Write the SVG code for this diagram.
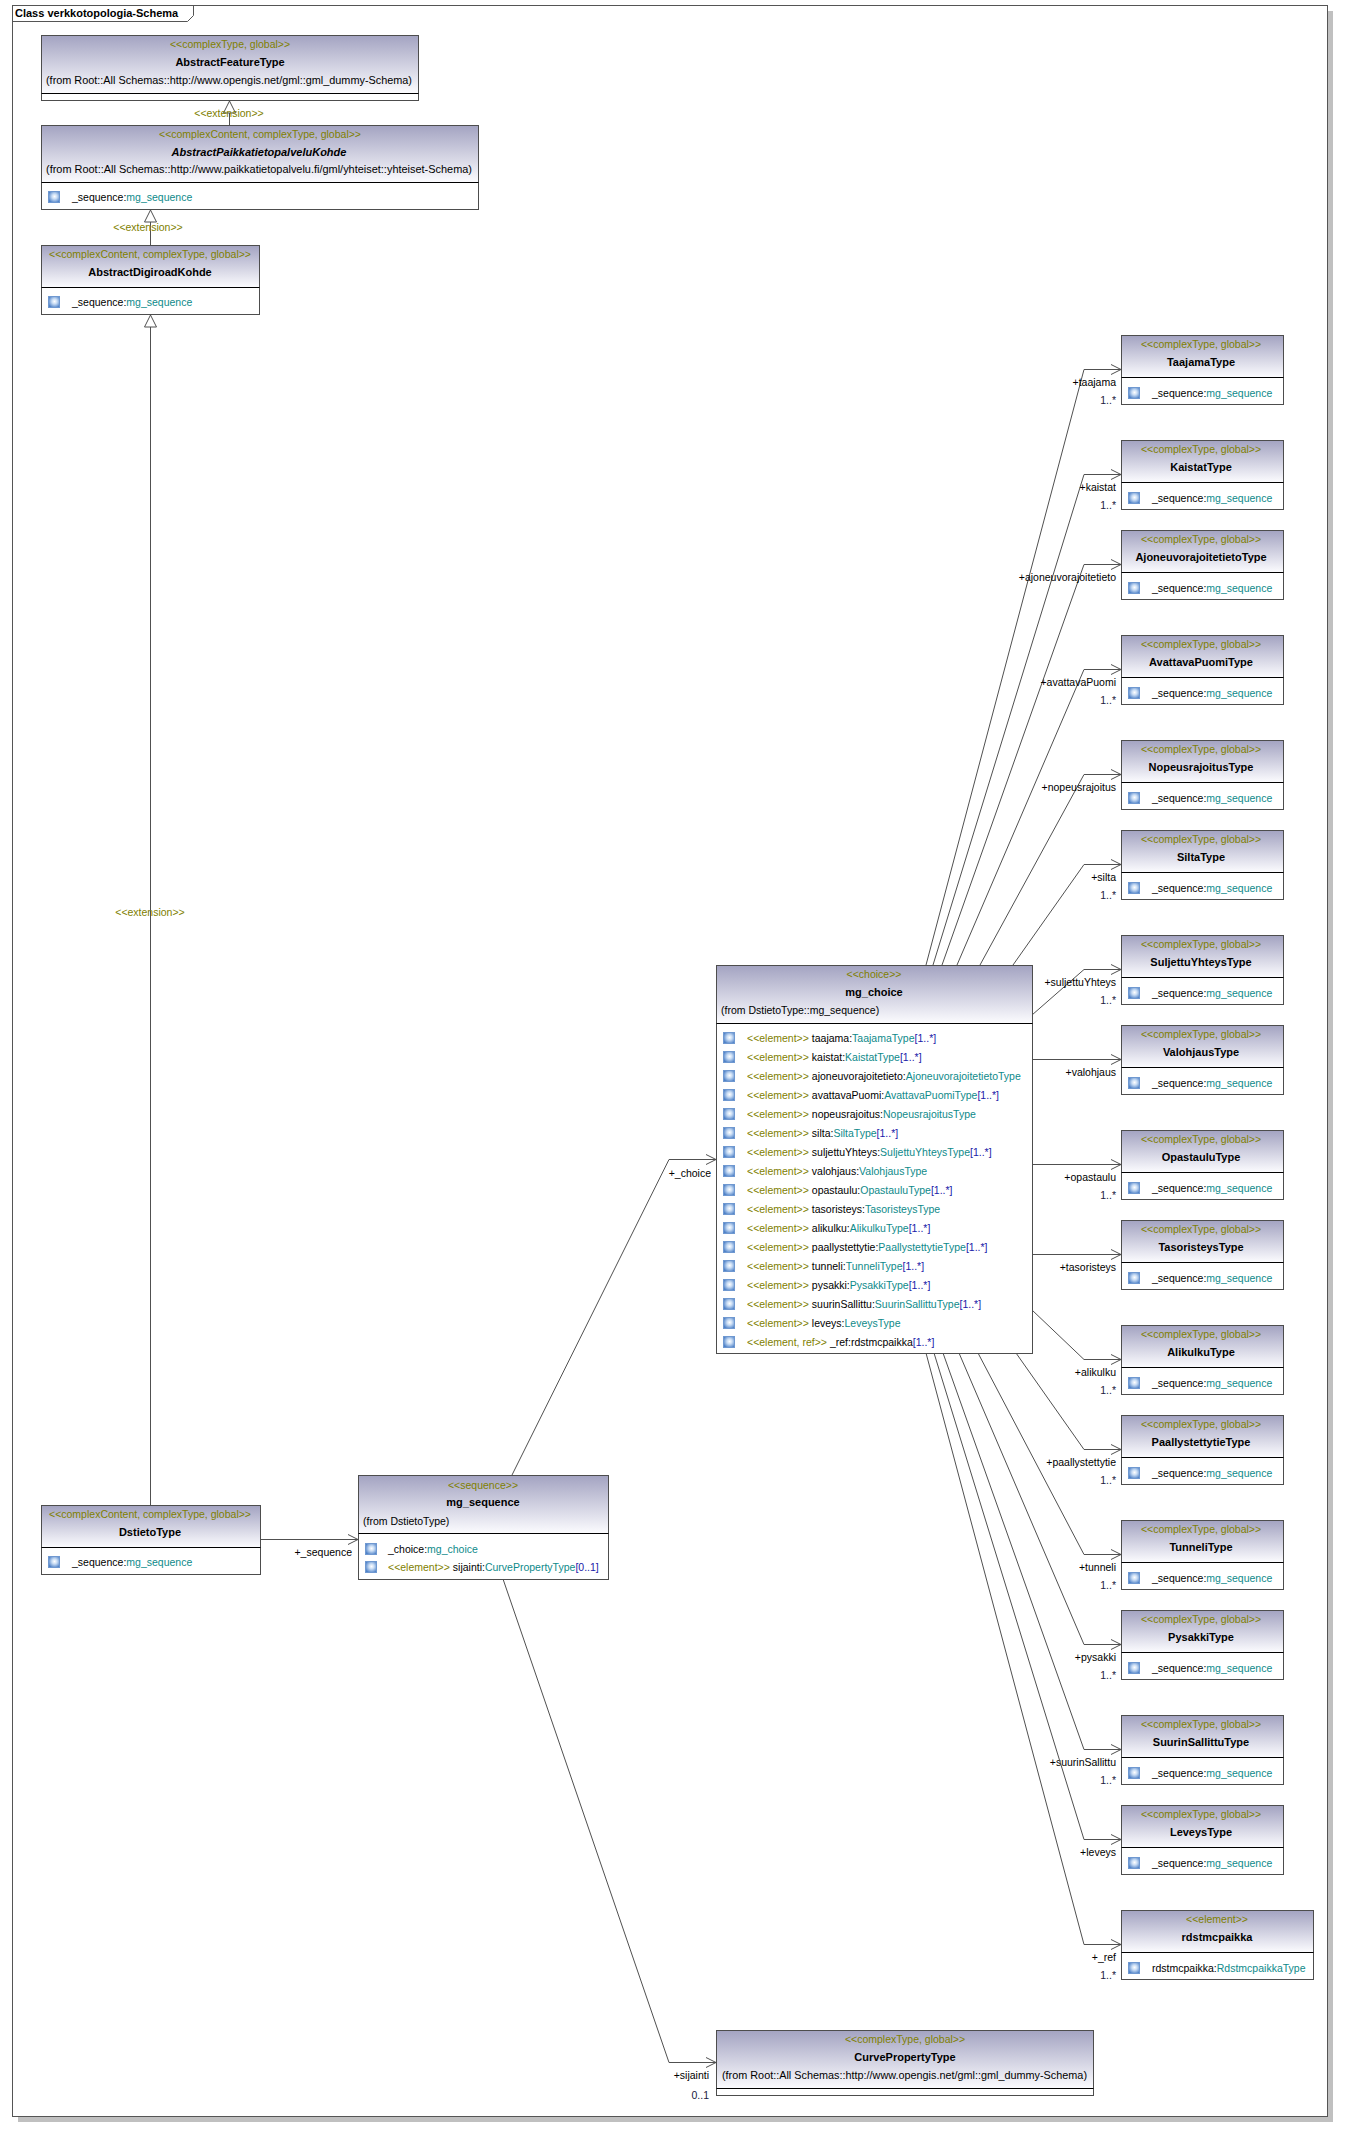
<svg xmlns="http://www.w3.org/2000/svg" width="1354" height="2137" viewBox="0 0 1354 2137">
<style>
text{font-family:"Liberation Sans",Arial,sans-serif;font-size:10.5px;fill:#000}
.st{fill:#808000}
.nm{font-weight:bold;font-size:11px}
.it{font-style:italic}
.ty{fill:#0e8a8a}
.mu{fill:#1a1aa8}
.ml{fill:#1a1a40}
.c{text-anchor:middle}
.r{text-anchor:end}
.bx{fill:#fff;stroke:#4d4d4d;stroke-width:1}
.hd{fill:url(#hg)}
.sp{stroke:#000;stroke-width:1}
.ln{fill:none;stroke:#505050;stroke-width:1}
.as{marker-end:url(#open)}
.gs{marker-end:url(#tri)}
</style>
<defs>
<linearGradient id="hg" x1="0" y1="0" x2="0" y2="1"><stop offset="0" stop-color="#a4a4c2"/><stop offset="1" stop-color="#fbfbfe"/></linearGradient>
<radialGradient id="ig" cx="0.55" cy="0.45" r="0.6"><stop offset="0" stop-color="#ffffff"/><stop offset="0.4" stop-color="#c8dcf4"/><stop offset="1" stop-color="#4f82c8"/></radialGradient>
<g id="ico"><rect x="0.5" y="0.5" width="11" height="11" fill="url(#ig)" stroke="#6f98d0" stroke-width="1"/></g>
<marker id="open" markerUnits="userSpaceOnUse" markerWidth="12" markerHeight="12" refX="10" refY="5" orient="auto" overflow="visible"><path d="M0,0 L10,5 L0,10" fill="none" stroke="#505050" stroke-width="1"/></marker>
<marker id="tri" markerUnits="userSpaceOnUse" markerWidth="14" markerHeight="14" refX="12" refY="6" orient="auto" overflow="visible"><path d="M0,0 L12,6 L0,12 Z" fill="#fff" stroke="#505050" stroke-width="1"/></marker>
<clipPath id="cc"><rect x="717" y="966" width="314" height="386"/></clipPath>
<clipPath id="cs"><rect x="359" y="1476" width="249" height="102"/></clipPath>
<clipPath id="cp"><rect x="42" y="126" width="310" height="56"/></clipPath>
</defs>

<g id="frame">
<rect x="1327" y="11" width="6" height="2111" fill="#c0c0c0"/>
<rect x="18" y="2116" width="1315" height="6" fill="#c0c0c0"/>
<rect x="12.5" y="5.5" width="1315" height="2111" fill="#fff" stroke="#555"/>
<path d="M12.5,5.5 H193.5 V15.5 L187.5,21.5 H12.5" fill="none" stroke="#555"/>
<text x="15" y="17" class="nm">Class verkkotopologia-Schema</text>
</g>

<g id="connectors">
<path class="ln gs" d="M229.5,125 V101"/>
<text x="229" y="117" class="st c">&lt;&lt;extension&gt;&gt;</text>
<path class="ln gs" d="M150.5,245 V210"/>
<text x="148" y="231" class="st c">&lt;&lt;extension&gt;&gt;</text>
<path class="ln gs" d="M150.5,1505 V315"/>
<text x="150" y="916" class="st c">&lt;&lt;extension&gt;&gt;</text>

<path class="ln as" d="M260,1539.5 H358"/>
<text x="352" y="1556" class="r">+_sequence</text>
<path class="ln as" d="M512,1475 L669,1159.5 H716"/>
<text x="711" y="1177" class="r">+_choice</text>
<path class="ln as" d="M503,1579 L669,2062.5 H716"/>
<text x="709" y="2079" class="r">+sijainti</text>
<text x="709" y="2099" class="r ml">0..1</text>

<path class="ln as" d="M926,965 L1084,369.5 H1121"/>
<text x="1116" y="386" class="r">+taajama</text><text x="1116" y="404" class="r ml">1..*</text>
<path class="ln as" d="M933,965 L1084,474.5 H1121"/>
<text x="1116" y="491" class="r">+kaistat</text><text x="1116" y="509" class="r ml">1..*</text>
<path class="ln as" d="M942,965 L1084,564.5 H1121"/>
<text x="1116" y="581" class="r">+ajoneuvorajoitetieto</text>
<path class="ln as" d="M957,965 L1084,669.5 H1121"/>
<text x="1116" y="686" class="r">+avattavaPuomi</text><text x="1116" y="704" class="r ml">1..*</text>
<path class="ln as" d="M980,965 L1084,774.5 H1121"/>
<text x="1116" y="791" class="r">+nopeusrajoitus</text>
<path class="ln as" d="M1013,965 L1084,864.5 H1121"/>
<text x="1116" y="881" class="r">+silta</text><text x="1116" y="899" class="r ml">1..*</text>
<path class="ln as" d="M1032,1015 L1084,969.5 H1121"/>
<text x="1116" y="986" class="r">+suljettuYhteys</text><text x="1116" y="1004" class="r ml">1..*</text>
<path class="ln as" d="M1032,1059.5 H1121"/>
<text x="1116" y="1076" class="r">+valohjaus</text>
<path class="ln as" d="M1032,1164.5 H1121"/>
<text x="1116" y="1181" class="r">+opastaulu</text><text x="1116" y="1199" class="r ml">1..*</text>
<path class="ln as" d="M1032,1254.5 H1121"/>
<text x="1116" y="1271" class="r">+tasoristeys</text>
<path class="ln as" d="M1032,1310 L1084,1359.5 H1121"/>
<text x="1116" y="1376" class="r">+alikulku</text><text x="1116" y="1394" class="r ml">1..*</text>
<path class="ln as" d="M1016,1353 L1084,1449.5 H1121"/>
<text x="1116" y="1466" class="r">+paallystettytie</text><text x="1116" y="1484" class="r ml">1..*</text>
<path class="ln as" d="M978,1353 L1084,1554.5 H1121"/>
<text x="1116" y="1571" class="r">+tunneli</text><text x="1116" y="1589" class="r ml">1..*</text>
<path class="ln as" d="M959,1353 L1084,1644.5 H1121"/>
<text x="1116" y="1661" class="r">+pysakki</text><text x="1116" y="1679" class="r ml">1..*</text>
<path class="ln as" d="M943,1353 L1084,1749.5 H1121"/>
<text x="1116" y="1766" class="r">+suurinSallittu</text><text x="1116" y="1784" class="r ml">1..*</text>
<path class="ln as" d="M934,1353 L1084,1839.5 H1121"/>
<text x="1116" y="1856" class="r">+leveys</text>
<path class="ln as" d="M926,1353 L1084,1944.5 H1121"/>
<text x="1116" y="1961" class="r">+_ref</text><text x="1116" y="1979" class="r ml">1..*</text>
</g>

<g id="AbstractFeatureType">
<rect x="41.5" y="35.5" width="377" height="65" class="bx"/>
<rect x="42" y="36" width="376" height="57" class="hd"/>
<line x1="41.5" y1="93.5" x2="418.5" y2="93.5" class="sp"/>
<text x="230" y="48" class="st c">&lt;&lt;complexType, global&gt;&gt;</text>
<text x="230" y="66" class="nm c">AbstractFeatureType</text>
<text x="46" y="84" textLength="366" lengthAdjust="spacingAndGlyphs">(from Root::All Schemas::http://www.opengis.net/gml::gml_dummy-Schema)</text>
</g>

<g id="AbstractPaikkatietopalveluKohde">
<rect x="41.5" y="125.5" width="437" height="84" class="bx"/>
<rect x="42" y="126" width="436" height="56" class="hd"/>
<line x1="41.5" y1="182.5" x2="478.5" y2="182.5" class="sp"/>
<text x="260" y="138" class="st c">&lt;&lt;complexContent, complexType, global&gt;&gt;</text>
<text x="259" y="156" class="nm it c" clip-path="url(#cp)">AbstractPaikkatietopalveluKohde</text>
<text x="46" y="173" textLength="426" lengthAdjust="spacingAndGlyphs">(from Root::All Schemas::http://www.paikkatietopalvelu.fi/gml/yhteiset::yhteiset-Schema)</text>
<use href="#ico" x="48" y="191"/>
<text x="72" y="201">_sequence:<tspan class="ty">mg_sequence</tspan></text>
</g>

<g id="AbstractDigiroadKohde">
<rect x="41.5" y="245.5" width="218" height="69" class="bx"/>
<rect x="42" y="246" width="217" height="41" class="hd"/>
<line x1="41.5" y1="287.5" x2="259.5" y2="287.5" class="sp"/>
<text x="150" y="258" class="st c">&lt;&lt;complexContent, complexType, global&gt;&gt;</text>
<text x="150" y="276" class="nm c">AbstractDigiroadKohde</text>
<use href="#ico" x="48" y="296"/>
<text x="72" y="306">_sequence:<tspan class="ty">mg_sequence</tspan></text>
</g>

<g id="DstietoType">
<rect x="41.5" y="1505.5" width="219" height="69" class="bx"/>
<rect x="42" y="1506" width="218" height="41" class="hd"/>
<line x1="41.5" y1="1547.5" x2="260.5" y2="1547.5" class="sp"/>
<text x="150" y="1518" class="st c">&lt;&lt;complexContent, complexType, global&gt;&gt;</text>
<text x="150" y="1536" class="nm c">DstietoType</text>
<use href="#ico" x="48" y="1556"/>
<text x="72" y="1566">_sequence:<tspan class="ty">mg_sequence</tspan></text>
</g>

<g id="mg_sequence">
<rect x="358.5" y="1475.5" width="250" height="104" class="bx"/>
<rect x="359" y="1476" width="249" height="57" class="hd"/>
<line x1="358.5" y1="1533.5" x2="608.5" y2="1533.5" class="sp"/>
<text x="483" y="1489" class="st c">&lt;&lt;sequence&gt;&gt;</text>
<text x="483" y="1506" class="nm c">mg_sequence</text>
<text x="363" y="1525">(from DstietoType)</text>
<use href="#ico" x="365" y="1543"/>
<text x="388" y="1553">_choice:<tspan class="ty">mg_choice</tspan></text>
<use href="#ico" x="365" y="1561"/>
<text x="388" y="1571" clip-path="url(#cs)"><tspan class="st">&lt;&lt;element&gt;&gt;</tspan> sijainti:<tspan class="ty">CurvePropertyType</tspan><tspan class="mu">[0..1]</tspan></text>
</g>

<g id="mg_choice">
<rect x="716.5" y="965.5" width="316" height="388" class="bx"/>
<rect x="717" y="966" width="315" height="57" class="hd"/>
<line x1="716.5" y1="1023.5" x2="1032.5" y2="1023.5" class="sp"/>
<text x="874" y="978" class="st c">&lt;&lt;choice&gt;&gt;</text>
<text x="874" y="996" class="nm c">mg_choice</text>
<text x="721" y="1014">(from DstietoType::mg_sequence)</text>
<g clip-path="url(#cc)">
<use href="#ico" x="723" y="1032"/><text x="747" y="1042"><tspan class="st">&lt;&lt;element&gt;&gt;</tspan> taajama:<tspan class="ty">TaajamaType</tspan><tspan class="mu">[1..*]</tspan></text>
<use href="#ico" x="723" y="1051"/><text x="747" y="1061"><tspan class="st">&lt;&lt;element&gt;&gt;</tspan> kaistat:<tspan class="ty">KaistatType</tspan><tspan class="mu">[1..*]</tspan></text>
<use href="#ico" x="723" y="1070"/><text x="747" y="1080"><tspan class="st">&lt;&lt;element&gt;&gt;</tspan> ajoneuvorajoitetieto:<tspan class="ty">AjoneuvorajoitetietoType</tspan></text>
<use href="#ico" x="723" y="1089"/><text x="747" y="1099"><tspan class="st">&lt;&lt;element&gt;&gt;</tspan> avattavaPuomi:<tspan class="ty">AvattavaPuomiType</tspan><tspan class="mu">[1..*]</tspan></text>
<use href="#ico" x="723" y="1108"/><text x="747" y="1118"><tspan class="st">&lt;&lt;element&gt;&gt;</tspan> nopeusrajoitus:<tspan class="ty">NopeusrajoitusType</tspan></text>
<use href="#ico" x="723" y="1127"/><text x="747" y="1137"><tspan class="st">&lt;&lt;element&gt;&gt;</tspan> silta:<tspan class="ty">SiltaType</tspan><tspan class="mu">[1..*]</tspan></text>
<use href="#ico" x="723" y="1146"/><text x="747" y="1156"><tspan class="st">&lt;&lt;element&gt;&gt;</tspan> suljettuYhteys:<tspan class="ty">SuljettuYhteysType</tspan><tspan class="mu">[1..*]</tspan></text>
<use href="#ico" x="723" y="1165"/><text x="747" y="1175"><tspan class="st">&lt;&lt;element&gt;&gt;</tspan> valohjaus:<tspan class="ty">ValohjausType</tspan></text>
<use href="#ico" x="723" y="1184"/><text x="747" y="1194"><tspan class="st">&lt;&lt;element&gt;&gt;</tspan> opastaulu:<tspan class="ty">OpastauluType</tspan><tspan class="mu">[1..*]</tspan></text>
<use href="#ico" x="723" y="1203"/><text x="747" y="1213"><tspan class="st">&lt;&lt;element&gt;&gt;</tspan> tasoristeys:<tspan class="ty">TasoristeysType</tspan></text>
<use href="#ico" x="723" y="1222"/><text x="747" y="1232"><tspan class="st">&lt;&lt;element&gt;&gt;</tspan> alikulku:<tspan class="ty">AlikulkuType</tspan><tspan class="mu">[1..*]</tspan></text>
<use href="#ico" x="723" y="1241"/><text x="747" y="1251"><tspan class="st">&lt;&lt;element&gt;&gt;</tspan> paallystettytie:<tspan class="ty">PaallystettytieType</tspan><tspan class="mu">[1..*]</tspan></text>
<use href="#ico" x="723" y="1260"/><text x="747" y="1270"><tspan class="st">&lt;&lt;element&gt;&gt;</tspan> tunneli:<tspan class="ty">TunneliType</tspan><tspan class="mu">[1..*]</tspan></text>
<use href="#ico" x="723" y="1279"/><text x="747" y="1289"><tspan class="st">&lt;&lt;element&gt;&gt;</tspan> pysakki:<tspan class="ty">PysakkiType</tspan><tspan class="mu">[1..*]</tspan></text>
<use href="#ico" x="723" y="1298"/><text x="747" y="1308"><tspan class="st">&lt;&lt;element&gt;&gt;</tspan> suurinSallittu:<tspan class="ty">SuurinSallittuType</tspan><tspan class="mu">[1..*]</tspan></text>
<use href="#ico" x="723" y="1317"/><text x="747" y="1327"><tspan class="st">&lt;&lt;element&gt;&gt;</tspan> leveys:<tspan class="ty">LeveysType</tspan></text>
<use href="#ico" x="723" y="1336"/><text x="747" y="1346"><tspan class="st">&lt;&lt;element, ref&gt;&gt;</tspan> _ref:rdstmcpaikka<tspan class="mu">[1..*]</tspan></text>
</g>
</g>

<g id="CurvePropertyType">
<rect x="716.5" y="2030.5" width="377" height="65" class="bx"/>
<rect x="717" y="2031" width="376" height="57" class="hd"/>
<line x1="716.5" y1="2088.5" x2="1093.5" y2="2088.5" class="sp"/>
<text x="905" y="2043" class="st c">&lt;&lt;complexType, global&gt;&gt;</text>
<text x="905" y="2061" class="nm c">CurvePropertyType</text>
<text x="722" y="2079" textLength="365" lengthAdjust="spacingAndGlyphs">(from Root::All Schemas::http://www.opengis.net/gml::gml_dummy-Schema)</text>
</g>

<g id="TaajamaType"><rect x="1121.5" y="335.5" width="162" height="69" class="bx"/><rect x="1122" y="336" width="161" height="41" class="hd"/><line x1="1121.5" y1="377.5" x2="1283.5" y2="377.5" class="sp"/><text x="1201" y="348" class="st c">&lt;&lt;complexType, global&gt;&gt;</text><text x="1201" y="366" class="nm c">TaajamaType</text><use href="#ico" x="1128" y="387"/><text x="1152" y="397">_sequence:<tspan class="ty">mg_sequence</tspan></text></g>
<g id="KaistatType"><rect x="1121.5" y="440.5" width="162" height="69" class="bx"/><rect x="1122" y="441" width="161" height="41" class="hd"/><line x1="1121.5" y1="482.5" x2="1283.5" y2="482.5" class="sp"/><text x="1201" y="453" class="st c">&lt;&lt;complexType, global&gt;&gt;</text><text x="1201" y="471" class="nm c">KaistatType</text><use href="#ico" x="1128" y="492"/><text x="1152" y="502">_sequence:<tspan class="ty">mg_sequence</tspan></text></g>
<g id="AjoneuvorajoitetietoType"><rect x="1121.5" y="530.5" width="162" height="69" class="bx"/><rect x="1122" y="531" width="161" height="41" class="hd"/><line x1="1121.5" y1="572.5" x2="1283.5" y2="572.5" class="sp"/><text x="1201" y="543" class="st c">&lt;&lt;complexType, global&gt;&gt;</text><text x="1201" y="561" class="nm c">AjoneuvorajoitetietoType</text><use href="#ico" x="1128" y="582"/><text x="1152" y="592">_sequence:<tspan class="ty">mg_sequence</tspan></text></g>
<g id="AvattavaPuomiType"><rect x="1121.5" y="635.5" width="162" height="69" class="bx"/><rect x="1122" y="636" width="161" height="41" class="hd"/><line x1="1121.5" y1="677.5" x2="1283.5" y2="677.5" class="sp"/><text x="1201" y="648" class="st c">&lt;&lt;complexType, global&gt;&gt;</text><text x="1201" y="666" class="nm c">AvattavaPuomiType</text><use href="#ico" x="1128" y="687"/><text x="1152" y="697">_sequence:<tspan class="ty">mg_sequence</tspan></text></g>
<g id="NopeusrajoitusType"><rect x="1121.5" y="740.5" width="162" height="69" class="bx"/><rect x="1122" y="741" width="161" height="41" class="hd"/><line x1="1121.5" y1="782.5" x2="1283.5" y2="782.5" class="sp"/><text x="1201" y="753" class="st c">&lt;&lt;complexType, global&gt;&gt;</text><text x="1201" y="771" class="nm c">NopeusrajoitusType</text><use href="#ico" x="1128" y="792"/><text x="1152" y="802">_sequence:<tspan class="ty">mg_sequence</tspan></text></g>
<g id="SiltaType"><rect x="1121.5" y="830.5" width="162" height="69" class="bx"/><rect x="1122" y="831" width="161" height="41" class="hd"/><line x1="1121.5" y1="872.5" x2="1283.5" y2="872.5" class="sp"/><text x="1201" y="843" class="st c">&lt;&lt;complexType, global&gt;&gt;</text><text x="1201" y="861" class="nm c">SiltaType</text><use href="#ico" x="1128" y="882"/><text x="1152" y="892">_sequence:<tspan class="ty">mg_sequence</tspan></text></g>
<g id="SuljettuYhteysType"><rect x="1121.5" y="935.5" width="162" height="69" class="bx"/><rect x="1122" y="936" width="161" height="41" class="hd"/><line x1="1121.5" y1="977.5" x2="1283.5" y2="977.5" class="sp"/><text x="1201" y="948" class="st c">&lt;&lt;complexType, global&gt;&gt;</text><text x="1201" y="966" class="nm c">SuljettuYhteysType</text><use href="#ico" x="1128" y="987"/><text x="1152" y="997">_sequence:<tspan class="ty">mg_sequence</tspan></text></g>
<g id="ValohjausType"><rect x="1121.5" y="1025.5" width="162" height="69" class="bx"/><rect x="1122" y="1026" width="161" height="41" class="hd"/><line x1="1121.5" y1="1067.5" x2="1283.5" y2="1067.5" class="sp"/><text x="1201" y="1038" class="st c">&lt;&lt;complexType, global&gt;&gt;</text><text x="1201" y="1056" class="nm c">ValohjausType</text><use href="#ico" x="1128" y="1077"/><text x="1152" y="1087">_sequence:<tspan class="ty">mg_sequence</tspan></text></g>
<g id="OpastauluType"><rect x="1121.5" y="1130.5" width="162" height="69" class="bx"/><rect x="1122" y="1131" width="161" height="41" class="hd"/><line x1="1121.5" y1="1172.5" x2="1283.5" y2="1172.5" class="sp"/><text x="1201" y="1143" class="st c">&lt;&lt;complexType, global&gt;&gt;</text><text x="1201" y="1161" class="nm c">OpastauluType</text><use href="#ico" x="1128" y="1182"/><text x="1152" y="1192">_sequence:<tspan class="ty">mg_sequence</tspan></text></g>
<g id="TasoristeysType"><rect x="1121.5" y="1220.5" width="162" height="69" class="bx"/><rect x="1122" y="1221" width="161" height="41" class="hd"/><line x1="1121.5" y1="1262.5" x2="1283.5" y2="1262.5" class="sp"/><text x="1201" y="1233" class="st c">&lt;&lt;complexType, global&gt;&gt;</text><text x="1201" y="1251" class="nm c">TasoristeysType</text><use href="#ico" x="1128" y="1272"/><text x="1152" y="1282">_sequence:<tspan class="ty">mg_sequence</tspan></text></g>
<g id="AlikulkuType"><rect x="1121.5" y="1325.5" width="162" height="69" class="bx"/><rect x="1122" y="1326" width="161" height="41" class="hd"/><line x1="1121.5" y1="1367.5" x2="1283.5" y2="1367.5" class="sp"/><text x="1201" y="1338" class="st c">&lt;&lt;complexType, global&gt;&gt;</text><text x="1201" y="1356" class="nm c">AlikulkuType</text><use href="#ico" x="1128" y="1377"/><text x="1152" y="1387">_sequence:<tspan class="ty">mg_sequence</tspan></text></g>
<g id="PaallystettytieType"><rect x="1121.5" y="1415.5" width="162" height="69" class="bx"/><rect x="1122" y="1416" width="161" height="41" class="hd"/><line x1="1121.5" y1="1457.5" x2="1283.5" y2="1457.5" class="sp"/><text x="1201" y="1428" class="st c">&lt;&lt;complexType, global&gt;&gt;</text><text x="1201" y="1446" class="nm c">PaallystettytieType</text><use href="#ico" x="1128" y="1467"/><text x="1152" y="1477">_sequence:<tspan class="ty">mg_sequence</tspan></text></g>
<g id="TunneliType"><rect x="1121.5" y="1520.5" width="162" height="69" class="bx"/><rect x="1122" y="1521" width="161" height="41" class="hd"/><line x1="1121.5" y1="1562.5" x2="1283.5" y2="1562.5" class="sp"/><text x="1201" y="1533" class="st c">&lt;&lt;complexType, global&gt;&gt;</text><text x="1201" y="1551" class="nm c">TunneliType</text><use href="#ico" x="1128" y="1572"/><text x="1152" y="1582">_sequence:<tspan class="ty">mg_sequence</tspan></text></g>
<g id="PysakkiType"><rect x="1121.5" y="1610.5" width="162" height="69" class="bx"/><rect x="1122" y="1611" width="161" height="41" class="hd"/><line x1="1121.5" y1="1652.5" x2="1283.5" y2="1652.5" class="sp"/><text x="1201" y="1623" class="st c">&lt;&lt;complexType, global&gt;&gt;</text><text x="1201" y="1641" class="nm c">PysakkiType</text><use href="#ico" x="1128" y="1662"/><text x="1152" y="1672">_sequence:<tspan class="ty">mg_sequence</tspan></text></g>
<g id="SuurinSallittuType"><rect x="1121.5" y="1715.5" width="162" height="69" class="bx"/><rect x="1122" y="1716" width="161" height="41" class="hd"/><line x1="1121.5" y1="1757.5" x2="1283.5" y2="1757.5" class="sp"/><text x="1201" y="1728" class="st c">&lt;&lt;complexType, global&gt;&gt;</text><text x="1201" y="1746" class="nm c">SuurinSallittuType</text><use href="#ico" x="1128" y="1767"/><text x="1152" y="1777">_sequence:<tspan class="ty">mg_sequence</tspan></text></g>
<g id="LeveysType"><rect x="1121.5" y="1805.5" width="162" height="69" class="bx"/><rect x="1122" y="1806" width="161" height="41" class="hd"/><line x1="1121.5" y1="1847.5" x2="1283.5" y2="1847.5" class="sp"/><text x="1201" y="1818" class="st c">&lt;&lt;complexType, global&gt;&gt;</text><text x="1201" y="1836" class="nm c">LeveysType</text><use href="#ico" x="1128" y="1857"/><text x="1152" y="1867">_sequence:<tspan class="ty">mg_sequence</tspan></text></g>
<g id="rdstmcpaikka"><rect x="1121.5" y="1910.5" width="192" height="69" class="bx"/><rect x="1122" y="1911" width="191" height="41" class="hd"/><line x1="1121.5" y1="1952.5" x2="1313.5" y2="1952.5" class="sp"/><text x="1217" y="1923" class="st c">&lt;&lt;element&gt;&gt;</text><text x="1217" y="1941" class="nm c">rdstmcpaikka</text><use href="#ico" x="1128" y="1962"/><text x="1152" y="1972">rdstmcpaikka:<tspan class="ty">RdstmcpaikkaType</tspan></text></g>
</svg>
